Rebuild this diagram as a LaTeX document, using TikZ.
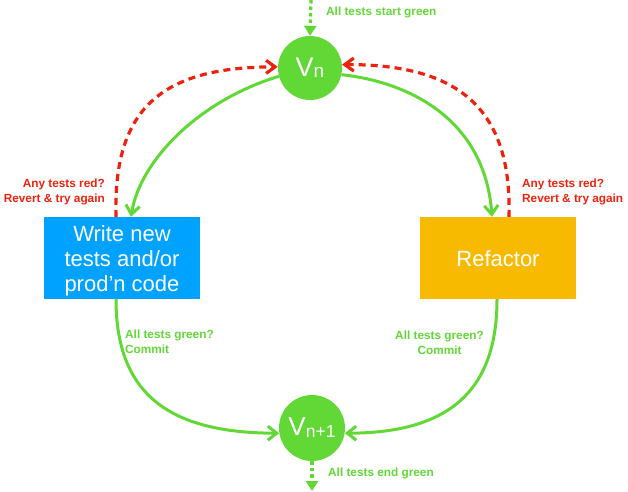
\documentclass[tikz,border=0pt]{standalone}
\usepackage{fontspec}
\setmainfont{Liberation Sans}
\usetikzlibrary{arrows.meta}
\definecolor{kgreen}{HTML}{61D836}
\definecolor{kblue}{HTML}{00A2FF}
\definecolor{korange}{HTML}{F8BA00}
\definecolor{kred}{HTML}{EE220C}
\begin{document}
\begin{tikzpicture}[x=1pt,y=-1pt,
  vnode/.style={circle, fill=kgreen, inner sep=0pt, text=white},
  boxshape/.style={minimum width=156pt, minimum height=82pt, inner sep=0pt},
  boxtext/.style={text=white, font=\fontsize{22}{25}\selectfont, align=center, inner sep=0pt},
  flow/.style={draw=kgreen, line width=3pt, -{Straight Barb[length=9pt,width=14pt]}},
  redo/.style={draw=kred, line width=3.2pt, dash pattern=on 7pt off 5pt, -{Straight Barb[length=9pt,width=13pt]}},
  entry/.style={draw=kgreen, line width=3.2pt, dash pattern=on 3.5pt off 3pt, -{Triangle[length=10pt,width=12pt]}},
  lbl/.style={font=\bfseries\fontsize{11.8}{15}\selectfont, inner sep=0pt},
  redlbl/.style={lbl, text=kred},
  greenlbl/.style={lbl, text=kgreen}
]
\useasboundingbox (0,0) rectangle (628,491);

% version nodes
\node[vnode, minimum size=64pt] (vn) at (310,68)
  {\fontsize{27}{27}\selectfont V\fontsize{19}{19}\selectfont\raisebox{-1pt}{n}};
\node[vnode, minimum size=66pt] (vn1) at (312,428)
  {\fontsize{26}{26}\selectfont V\fontsize{17.5}{17.5}\selectfont\raisebox{-2pt}{n+1}};

% boxes
\node[boxshape, fill=kblue] (write) at (122,258) {};
\node[boxtext] (writetxt) at (122,261) {Write new\\tests and/or\\prod’n code};
\node[boxshape, fill=korange] (refactor) at (498,258) {};
\node[boxtext] (refactortxt) at (498,258.6) {Refactor};

% entry / exit
\coordinate (topin) at (311,0);
\coordinate (botout) at (312,491);
\draw[entry] (topin) -- (vn.north);
\draw[entry] (vn1.south) -- (botout);
\node[greenlbl, anchor=west] (startlbl) at (326,12) {All tests start green};
\node[greenlbl, anchor=west] (endlbl) at (328,473) {All tests end green};

% green flows
\draw[flow] (vn.195) .. controls (200,100) and (140,160) .. ([xshift=9pt]write.north);
\draw[flow] (vn.-12) .. controls (410,82) and (485,120) .. ([xshift=-6pt]refactor.north);
\draw[flow] ([xshift=-6pt]write.south) .. controls (116,395) and (170,433) .. (vn1.189);
\draw[flow] ([xshift=-1pt]refactor.south) .. controls (497,390) and (450,433) .. (vn1.-9);

% red reverts
\draw[redo] ([xshift=-6pt]write.north) .. controls (113,110) and (160,67) .. (vn.178);
\draw[redo] ([xshift=11pt]refactor.north) .. controls (512,110) and (460,64) .. (vn.6);

% labels
\node[redlbl, align=right, anchor=east] (redl) at (105,191.7) {Any tests red?\\Revert \& try again};
\node[redlbl, align=left, anchor=west] (redr) at (522,191.7) {Any tests red?\\Revert \& try again};
\node[greenlbl, align=left, anchor=west] (greenl) at (125,341.4) {All tests green?\\Commit};
\node[greenlbl, align=center] (greenr) at (439.5,342.4) {All tests green?\\Commit};
\end{tikzpicture}
\end{document}
